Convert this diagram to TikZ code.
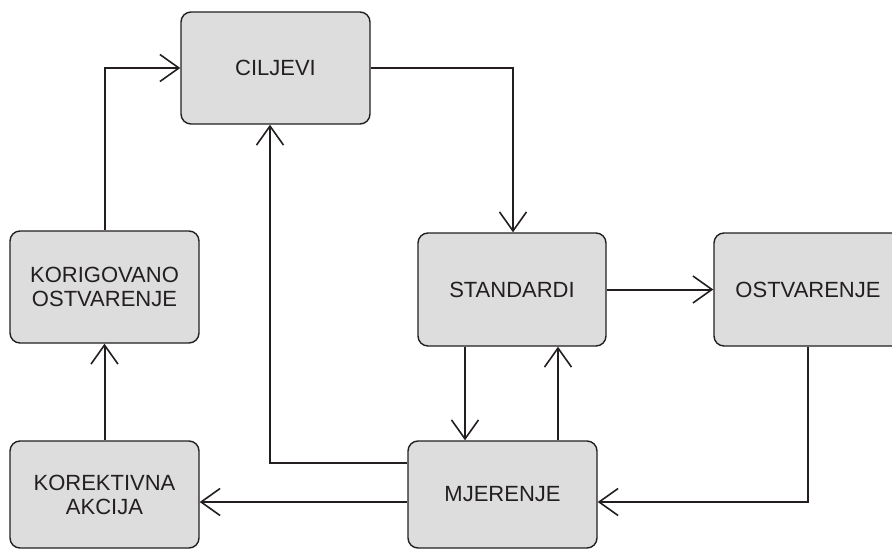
\documentclass[tikz,border=0pt]{standalone}
\usepackage{fontspec}
\setmainfont{Liberation Sans}
\usetikzlibrary{arrows.meta,calc}
\definecolor{boxfill}{RGB}{221,221,221}
\definecolor{ink}{RGB}{35,31,32}
\begin{document}
\begin{tikzpicture}[x=1pt,y=-1pt,
  stepbox/.style={draw=ink, line width=1.4pt, fill=boxfill, rounded corners=10pt,
    minimum width=189pt, minimum height=112pt, inner sep=0pt,
    align=center, text=ink, font=\fontsize{22}{24}\selectfont},
  flow/.style={draw=ink, line width=2pt,
    -{Straight Barb[length=19pt, width=27pt, line width=1.6pt]}}]
\useasboundingbox (0,0) rectangle (892,549);
\clip (0,0) rectangle (892,549);
% process boxes
\node[stepbox] (cilj)  at (275.5,68)  {CILJEVI};
\node[stepbox, minimum width=188pt, minimum height=113pt] (stand) at (512,289.5) {STANDARDI};
\node[stepbox, minimum width=188pt, minimum height=113pt] (ostv)  at (808,289.5) {OSTVARENJE};
\node[stepbox] (korig) at (104.5,287) {KORIGOVANO\\OSTVARENJE};
\node[stepbox, minimum height=107pt] (mjer)  at (502.5,494.5) {MJERENJE};
\node[stepbox, minimum height=107pt] (korek) at (104.5,494.5) {KOREKTIVNA\\AKCIJA};
% connectors
\draw[flow] (korig.north) |- (cilj.west);
\draw[flow] (cilj.east) -| ([xshift=1pt]stand.north);
\draw[flow] (stand.east) -- (ostv.west);
\draw[flow] (ostv.south) |- ([yshift=-7.5pt]mjer.east);
\draw[flow] ([xshift=-47pt]stand.south) -- ([xshift=-47pt]stand.south |- mjer.north);
\draw[flow] ([xshift=46pt]stand.south |- mjer.north) -- ([xshift=46pt]stand.south);
\draw[flow] ([yshift=31.5pt]mjer.west) -| ([xshift=-5.5pt]cilj.south);
\draw[flow] ([yshift=-7.5pt]mjer.west) -- ([yshift=-7.5pt]korek.east);
\draw[flow] (korek.north) -- (korig.south);
\end{tikzpicture}
\end{document}
